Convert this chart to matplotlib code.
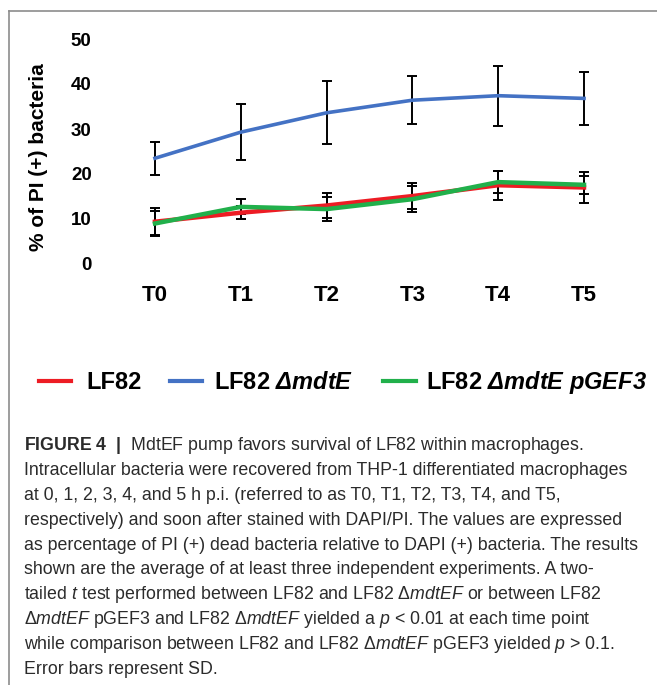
import matplotlib
matplotlib.use("Agg")
import matplotlib.pyplot as plt
from matplotlib.lines import Line2D

# data
time_labels = ["T0", "T1", "T2", "T3", "T4", "T5"]
lf82 = [9.4, 11.4, 13.0, 15.1, 17.5, 17.0]
lf82_sd = [3.0, 1.5, 2.8, 2.8, 3.2, 3.4]
mdte = [23.5, 29.3, 33.6, 36.4, 37.4, 36.8]
mdte_sd = [3.7, 6.3, 7.0, 5.3, 6.7, 5.8]
pgef3 = [9.0, 12.7, 12.2, 14.4, 18.2, 17.6]
pgef3_sd = [2.8, 1.7, 2.7, 2.9, 2.5, 2.0]
y_ticks = [0, 10, 20, 30, 40, 50]

series_names = ["LF82", r"LF82 $\mathbfit{ΔmdtE}$", r"LF82 $\mathbfit{ΔmdtE\ pGEF3}$"]
series_colors = ["#ED1C24", "#4472C4", "#21B04B"]

caption_lines = [
    r"$\mathbf{FIGURE\ 4\ \ |}$  MdtEF pump favors survival of LF82 within macrophages.",
    "Intracellular bacteria were recovered from THP-1 differentiated macrophages",
    "at 0, 1, 2, 3, 4, and 5 h p.i. (referred to as T0, T1, T2, T3, T4, and T5,",
    "respectively) and soon after stained with DAPI/PI. The values are expressed",
    "as percentage of PI (+) dead bacteria relative to DAPI (+) bacteria. The results",
    "shown are the average of at least three independent experiments. A two-",
    r"tailed $\mathit{t}$ test performed between LF82 and LF82 Δ$\mathit{mdtEF}$ or between LF82",
    r"Δ$\mathit{mdtEF}$ pGEF3 and LF82 Δ$\mathit{mdtEF}$ yielded a $\mathit{p}$ < 0.01 at each time point",
    r"while comparison between LF82 and LF82 Δ$\mathit{mdtEF}$ pGEF3 yielded $\mathit{p}$ > 0.1.",
    "Error bars represent SD.",
]

plt.rcParams["font.family"] = ["Liberation Sans", "DejaVu Sans"]
plt.rcParams["mathtext.fontset"] = "custom"
plt.rcParams["mathtext.rm"] = "Liberation Sans"
plt.rcParams["mathtext.it"] = "Liberation Sans:italic"
plt.rcParams["mathtext.bf"] = "Liberation Sans:bold"
plt.rcParams["mathtext.bfit"] = "Liberation Sans:bold:italic"

W, H = 657, 685
fig = plt.figure(figsize=(W / 100, H / 100), dpi=100)


def fx(px):
    return px / W


def fy(py):
    return 1 - py / H


# chart area
ax = fig.add_axes([fx(103.5), fy(264), 532 / W, 225 / H])
x = list(range(len(time_labels)))

for vals, sd in [(lf82, lf82_sd), (pgef3, pgef3_sd), (mdte, mdte_sd)]:
    ax.errorbar(x, vals, yerr=sd, fmt="none", ecolor="black",
                elinewidth=1.4, capsize=3.5, capthick=1.4, zorder=2)

ax.plot(x, mdte, color=series_colors[1], lw=2.6, zorder=3)
ax.plot(x, lf82, color=series_colors[0], lw=3.2, zorder=3)
ax.plot(x, pgef3, color=series_colors[2], lw=3.2, zorder=4)

ax.set_xlim(-0.6, 5.6)
ax.set_ylim(0, 50)
ax.set_yticks(y_ticks)
ax.set_xticks(x)
ax.set_xticklabels(time_labels)
for s in ax.spines.values():
    s.set_visible(False)
ax.tick_params(axis="y", length=0, pad=8.5, labelsize=13.5)
ax.tick_params(axis="x", length=0, pad=15, labelsize=16)
for lab in ax.get_xticklabels() + ax.get_yticklabels():
    lab.set_fontweight("bold")

fig.text(fx(39), fy(157), "% of PI (+) bacteria", rotation=90, ha="center",
         va="center", fontsize=15, fontweight="bold")

# legend drawn by hand
leg_y = 381
leg_lines = [(39, 71), (170, 202), (383, 416)]
leg_text_x = [86, 214, 426]
for (x0, x1), tx, name, col in zip(leg_lines, leg_text_x, series_names, series_colors):
    fig.add_artist(Line2D([fx(x0), fx(x1)], [fy(leg_y), fy(leg_y)], color=col, lw=3))
    fig.text(fx(tx), fy(leg_y + 8), name, fontsize=17, fontweight="bold",
             ha="left", va="baseline")

# caption
for i, line in enumerate(caption_lines):
    fig.text(fx(24), fy(450.5 + 24.8 * i), line, fontsize=12.8, color="#2b2b2b",
             ha="left", va="baseline")

# grey frame at top and left
fig.add_artist(Line2D([fx(9), fx(W)], [fy(11), fy(11)], color="#8c8c8c", lw=1.2))
fig.add_artist(Line2D([fx(9), fx(9)], [fy(11), fy(H)], color="#8c8c8c", lw=1.2))

fig.savefig("out.png", dpi=100)
